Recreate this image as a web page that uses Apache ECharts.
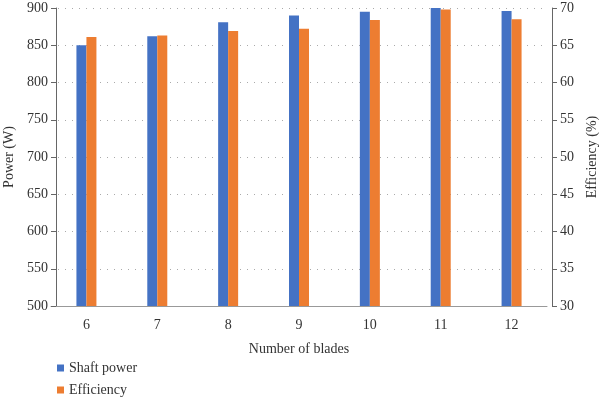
<!DOCTYPE html>
<html lang="en">
<head>
    <meta charset="UTF-8">
    <title>blades chart</title>
    <script type="text/javascript" src="https://cdn.jsdelivr.net/npm/echarts@6/dist/echarts.min.js"></script>
</head>
<body style="margin:0;">
    <div id="main" style="width: 600px; height: 399px;"></div>
    <script type="text/javascript">
        var blades = ['6', '7', '8', '9', '10', '11', '12'];
        var shaftPower = [850, 862, 881, 890, 895, 901, 896];
        var efficiency = [66.1, 66.3, 66.9, 67.2, 68.4, 69.8, 68.5];

        var serif = 'Liberation Serif';
        var myChart = echarts.init(document.getElementById('main'));

        myChart.setOption({
            animation: false,
            textStyle: { fontFamily: serif },
            // categories sit slightly left of the axis lines in the original
            grid: { left: 51, right: 53, top: 8, bottom: 93, outerBoundsMode: 'none' },
            legend: {
                orient: 'vertical',
                left: 57,
                top: 361,
                height: 38,
                padding: 0,
                itemWidth: 7,
                itemHeight: 7,
                itemGap: 8,
                icon: 'rect',
                textStyle: { fontFamily: serif, fontSize: 14, color: '#333' },
                data: ['Shaft power', 'Efficiency']
            },
            xAxis: {
                type: 'category',
                data: blades,
                name: 'Number of blades',
                nameLocation: 'middle',
                nameGap: 36,
                nameTextStyle: { fontFamily: serif, fontSize: 14, color: '#333' },
                axisLine: { lineStyle: { color: '#999' } },
                axisTick: { show: false },
                axisLabel: { fontFamily: serif, fontSize: 14, color: '#333', margin: 12 }
            },
            yAxis: [{
                type: 'value',
                min: 500, max: 900, interval: 50,
                offset: -5,
                name: 'Power (W)',
                nameLocation: 'middle',
                nameGap: 40,
                nameTextStyle: { fontFamily: serif, fontSize: 14, color: '#333' },
                axisLine: { show: true, lineStyle: { color: '#666' } },
                axisTick: { show: true, length: 5, lineStyle: { color: '#666' } },
                axisLabel: { fontFamily: serif, fontSize: 14, color: '#333', margin: 8 },
                splitLine: { show: true, lineStyle: { color: '#aaa', type: [1, 6] } }
            }, {
                type: 'value',
                min: 30, max: 70, interval: 5,
                offset: 5,
                name: 'Efficiency (%)',
                nameLocation: 'middle',
                nameGap: 32,
                nameTextStyle: { fontFamily: serif, fontSize: 14, color: '#333' },
                axisLine: { show: true, lineStyle: { color: '#666' } },
                axisTick: { show: true, length: 5, lineStyle: { color: '#666' } },
                axisLabel: { fontFamily: serif, fontSize: 14, color: '#333', margin: 8 },
                splitLine: { show: false }
            }],
            series: [{
                name: 'Shaft power',
                type: 'bar',
                data: shaftPower,
                yAxisIndex: 0,
                barWidth: 10,
                barGap: '0%',
                itemStyle: { color: '#4472C4' }
            }, {
                name: 'Efficiency',
                type: 'bar',
                data: efficiency,
                yAxisIndex: 1,
                barWidth: 10,
                barGap: '0%',
                itemStyle: { color: '#ED7D31' }
            }]
        });
    </script>
</body>
</html>
